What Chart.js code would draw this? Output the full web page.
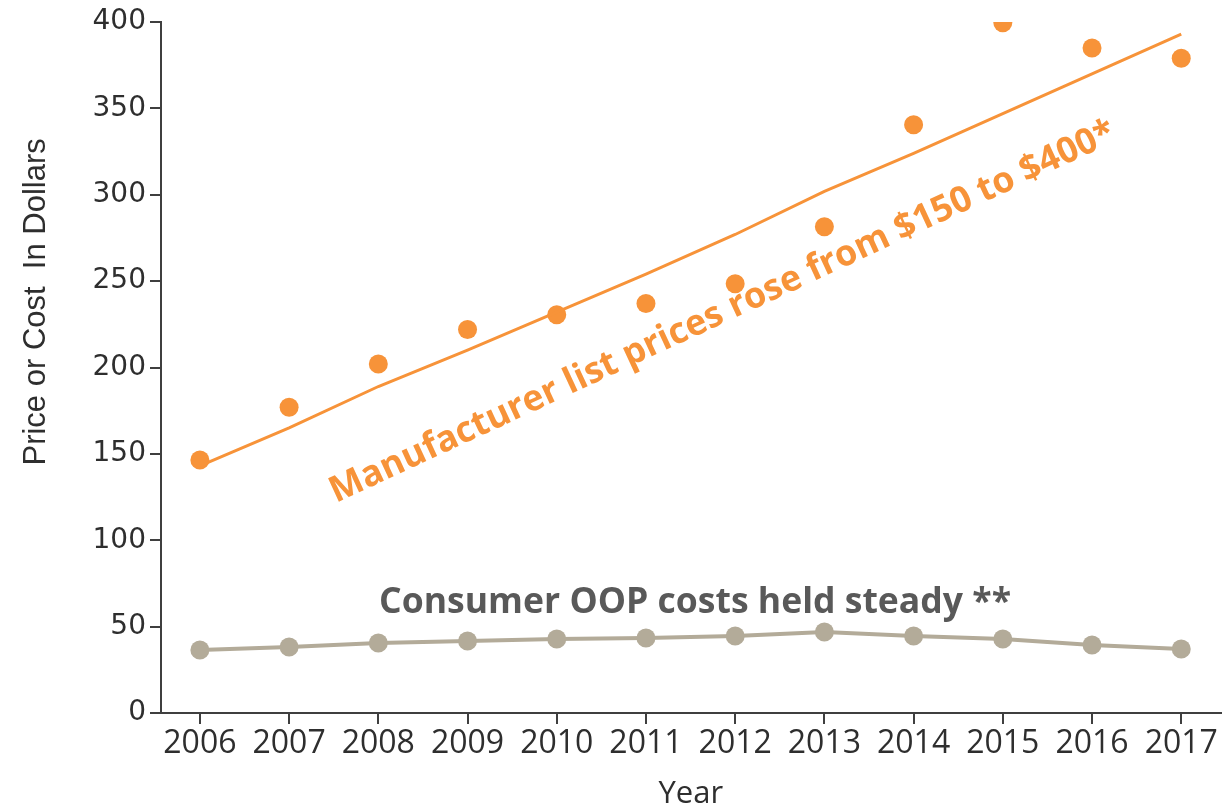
<!DOCTYPE html>
<html>
<head>
<meta charset="utf-8">
<script src="https://cdn.jsdelivr.net/npm/chart.js@4.4.1/dist/chart.umd.min.js"></script>
<style>
  html, body { margin: 0; padding: 0; background: #fff; }
  #wrap { width: 1230px; height: 809px; position: relative; }
</style>
</head>
<body>
<div id="wrap"><canvas id="c" width="1230" height="809"></canvas></div>
<script>
const years = [2006, 2007, 2008, 2009, 2010, 2011, 2012, 2013, 2014, 2015, 2016, 2017];
const listPrices = [146.5, 177, 202, 222, 230.5, 237, 248.5, 281.5, 340.5, 399.5, 385, 379];
const listTrend = [143, 165, 189, 210, 232, 254, 277, 302, 324, 347, 370, 393];
const oopCosts = [36.5, 38.2, 40.5, 41.7, 42.8, 43.4, 44.6, 46.9, 44.6, 42.8, 39.4, 37];
const yTicks = [0, 50, 100, 150, 200, 250, 300, 350, 400];
const yAxisTitle = 'Price or Cost  In Dollars';
const xAxisTitle = 'Year';

const ORANGE = '#F79339';
const GRAY = '#B3AB99';
const AXIS = '#3f3f3f';
const TEXT = '#2e2e2e';

const annotations = [
  { text: 'Manufacturer list prices rose from $150 to $400*', x: 2011.86, y: 232, angle: -24.9,
    color: ORANGE, font: 'bold 36px "Open Sans"', width: 862 },
  { text: 'Consumer OOP costs held steady **', x: 2011.55, y: 63.5, angle: 0,
    color: '#595959', font: 'bold 35px "Open Sans"', width: 632 }
];

const annotationPlugin = {
  id: 'annot',
  afterDatasetsDraw(chart) {
    const { ctx, scales } = chart;
    annotations.forEach(a => {
      const px = scales.x.getPixelForValue(a.x);
      const py = scales.y.getPixelForValue(a.y);
      ctx.save();
      ctx.font = a.font;
      ctx.fillStyle = a.color;
      ctx.textAlign = 'center';
      ctx.textBaseline = 'middle';
      const w = ctx.measureText(a.text).width;
      ctx.translate(px, py);
      ctx.rotate(a.angle * Math.PI / 180);
      ctx.scale(a.width / w, 1);
      ctx.fillText(a.text, 0, 0);
      ctx.restore();
    });
    // y axis title, centred on the upper part of the axis as in the original
    const yMid = scales.y.getPixelForValue(238);
    ctx.save();
    ctx.font = '31px "Liberation Sans"';
    ctx.fillStyle = TEXT;
    ctx.textAlign = 'center';
    ctx.textBaseline = 'middle';
    ctx.translate(36, yMid);
    ctx.rotate(-Math.PI / 2);
    ctx.fillText(yAxisTitle, 0, 0);
    ctx.restore();
  }
};

new Chart(document.getElementById('c'), {
  type: 'line',
  data: {
    datasets: [
      {
        type: 'scatter',
        label: 'List price',
        data: years.map((y, i) => ({ x: y, y: listPrices[i] })),
        backgroundColor: ORANGE,
        borderColor: ORANGE,
        pointRadius: 9.5,
        pointHoverRadius: 9.5,
        borderWidth: 0,
        order: 2
      },
      {
        type: 'line',
        label: 'Trend',
        data: years.map((y, i) => ({ x: y, y: listTrend[i] })),
        borderColor: ORANGE,
        borderWidth: 3,
        pointRadius: 0,
        fill: false,
        tension: 0,
        order: 1
      },
      {
        type: 'line',
        label: 'OOP',
        data: years.map((y, i) => ({ x: y, y: oopCosts[i] })),
        borderColor: GRAY,
        backgroundColor: GRAY,
        borderWidth: 4,
        pointRadius: 9.5,
        pointBorderWidth: 0,
        fill: false,
        tension: 0,
        order: 0
      }
    ]
  },
  options: {
    responsive: false,
    animation: false,
    devicePixelRatio: 1,
    layout: { padding: { left: 0, right: 8, top: 22, bottom: 0 } },
    plugins: { legend: { display: false }, tooltip: { enabled: false } },
    scales: {
      x: {
        type: 'linear',
        min: 2005.564,
        max: 2017.44,
        afterFit(scale) { scale.height = 96; },
        afterBuildTicks(scale) { scale.ticks = years.map(v => ({ value: v })); },
        border: { display: true, color: AXIS, width: 2 },
        grid: { display: true, drawOnChartArea: false, drawTicks: true, tickLength: 11, color: AXIS, lineWidth: 2 },
        ticks: {
          color: TEXT,
          font: { family: '"Open Sans"', size: 32 },
          padding: 1,
          maxRotation: 0,
          autoSkip: false,
          callback: v => String(v)
        },
        title: {
          display: true,
          text: xAxisTitle,
          color: TEXT,
          font: { family: '"Open Sans"', size: 31 },
          padding: { top: 0, bottom: -4 }
        }
      },
      y: {
        type: 'linear',
        min: 0,
        max: 400,
        afterFit(scale) { scale.width = 161; },
        afterBuildTicks(scale) { scale.ticks = yTicks.map(v => ({ value: v })); },
        border: { display: true, color: AXIS, width: 2 },
        grid: { display: true, drawOnChartArea: false, drawTicks: true, tickLength: 11, color: AXIS, lineWidth: 2 },
        ticks: {
          color: TEXT,
          font: { family: '"DejaVu Sans"', size: 28 },
          padding: 4
        },
        title: { display: false }
      }
    }
  },
  plugins: [annotationPlugin]
});
</script>
</body>
</html>
